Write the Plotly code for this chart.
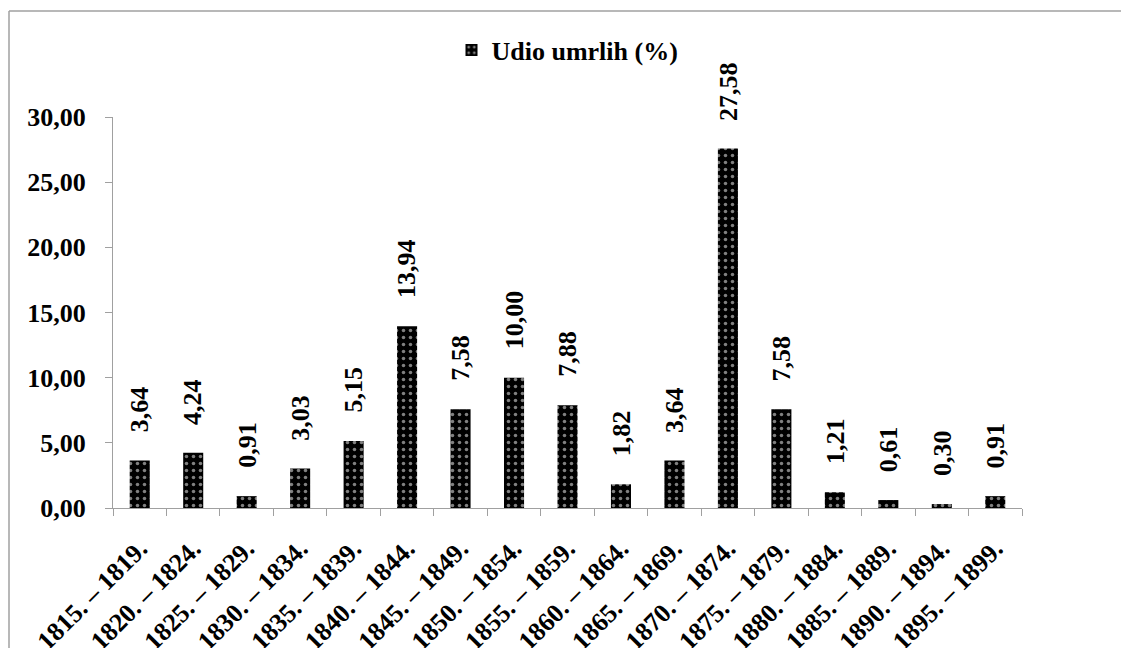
import plotly.graph_objects as go

categories = ["1815. – 1819.", "1820. – 1824.", "1825. – 1829.", "1830. – 1834.",
              "1835. – 1839.", "1840. – 1844.", "1845. – 1849.", "1850. – 1854.",
              "1855. – 1859.", "1860. – 1864.", "1865. – 1869.", "1870. – 1874.",
              "1875. – 1879.", "1880. – 1884.", "1885. – 1889.", "1890. – 1894.",
              "1895. – 1899."]
values = [3.64, 4.24, 0.91, 3.03, 5.15, 13.94, 7.58, 10.00, 7.88, 1.82, 3.64,
          27.58, 7.58, 1.21, 0.61, 0.30, 0.91]
series_name = "Udio umrlih (%)"
y_ticks = [0, 5, 10, 15, 20, 25, 30]

FONT = "Liberation Serif, Times New Roman, serif"

def fmt(v):
    return f"{v:.2f}".replace(".", ",")

fig = go.Figure()
fig.add_trace(go.Bar(
    x=categories, y=values, name=series_name, width=0.375,
    marker=dict(color="black", line=dict(width=0),
                pattern=dict(shape=".", bgcolor="black", fgcolor="white",
                             size=7, solidity=0.2)),
    showlegend=True,
))

annotations = []
for c, v in zip(categories, values):
    annotations.append(dict(
        x=c, y=v, xref="x", yref="y", text=fmt(v), showarrow=False,
        textangle=-90, yanchor="bottom", xanchor="center", yshift=26,
        font=dict(family=FONT, size=26, color="black", weight="bold"),
    ))

# page has an 8px body margin, so figure coords = window coords - 8
OFF = 8
W, H = 1129 - OFF, 648 - OFF
L, T = 113 - OFF, 117 - OFF
R = W - (1022 - OFF)
B = H - (508 - OFF)
pw, ph = W - L - R, H - T - B
y0pix = 508 - OFF

bx0 = (1 - L) / pw
bx1 = (W + 10 - L) / pw
by0 = (y0pix - (H + 10)) / ph
by1 = (y0pix - (11 - OFF)) / ph
border = dict(color="#a0a0a0", width=1.5)

fig.update_layout(
    width=W, height=H,
    margin=dict(l=L, r=R, t=T, b=B, autoexpand=False),
    paper_bgcolor="white", plot_bgcolor="white",
    font=dict(family=FONT, color="black", size=26, weight="bold"),
    annotations=annotations,
    showlegend=True,
    legend=dict(orientation="h", x=0.5, xanchor="center",
                y=(y0pix - (50 - OFF)) / ph, yanchor="middle",
                font=dict(family=FONT, size=26, weight="bold"),
                itemwidth=30, bgcolor="rgba(0,0,0,0)"),
    xaxis=dict(type="category", showline=True, linecolor="#a0a0a0", linewidth=1,
               ticks="outside", tickson="boundaries", ticklen=7, tickcolor="#a0a0a0",
               tickangle=-45, showgrid=False, zeroline=False, automargin=False,
               ticklabelstandoff=14,
               tickfont=dict(family=FONT, size=26, weight="bold")),
    yaxis=dict(range=[0, 30], tickvals=y_ticks, ticktext=[fmt(t) for t in y_ticks],
               showline=True, linecolor="#a0a0a0", linewidth=1, ticks="outside",
               ticklen=7, tickcolor="#a0a0a0", showgrid=False, zeroline=False,
               ticklabelstandoff=14, automargin=False,
               tickfont=dict(family=FONT, size=26, weight="bold")),
    shapes=[
        dict(type="line", xref="paper", yref="paper", x0=bx0, x1=bx1, y0=by1, y1=by1,
             line=border, layer="below"),
        dict(type="line", xref="paper", yref="paper", x0=bx0, x1=bx0, y0=by0, y1=by1,
             line=border, layer="below"),
    ],
)

fig.write_html("out.html")
